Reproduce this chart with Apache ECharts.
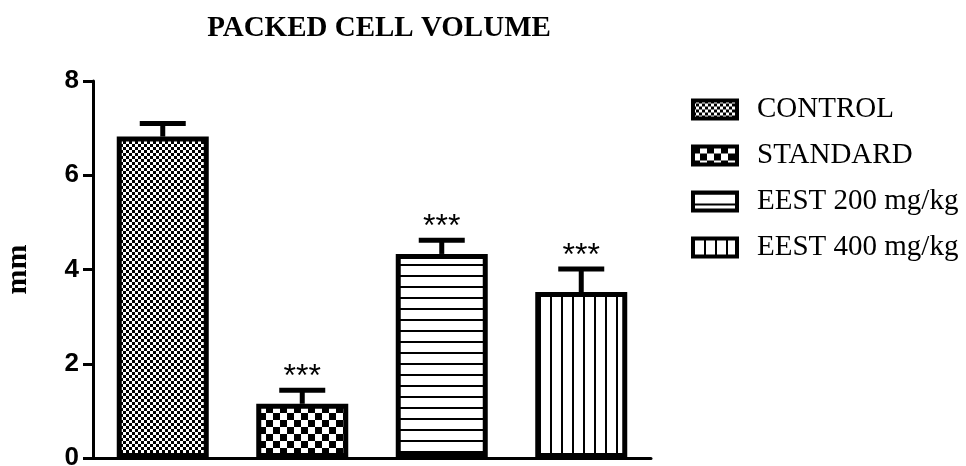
<!DOCTYPE html>
<html>
<head>
<meta charset="utf-8">
<title>Packed cell volume</title>
<script src="https://cdn.jsdelivr.net/npm/echarts@6/dist/echarts.min.js"></script>
<style>
  html, body { margin: 0; padding: 0; background: #fff; }
  #chart { width: 966px; height: 466px; }
</style>
</head>
<body>
<div id="chart"></div>
<script>
// data
var groups = ['CONTROL', 'STANDARD', 'EEST 200 mg/kg', 'EEST 400 mg/kg'];
var means = [6.82, 1.15, 4.33, 3.52];
var errors = [0.28, 0.29, 0.29, 0.49];
var stars = ['', '***', '***', '***'];
var yTicks = [0, 2, 4, 6, 8];

// fill patterns (like the GraphPad hatches)
function makeCanvas(w, h) {
    var c = document.createElement('canvas');
    c.width = w; c.height = h;
    var ctx = c.getContext('2d');
    ctx.fillStyle = '#fff';
    ctx.fillRect(0, 0, w, h);
    ctx.fillStyle = '#000';
    return { c: c, ctx: ctx };
}
function checker(s) {
    var p = makeCanvas(s * 2, s * 2);
    p.ctx.fillRect(0, 0, s, s);
    p.ctx.fillRect(s, s, s, s);
    return { image: p.c, repeat: 'repeat' };
}
function hLines(step, w) {
    var p = makeCanvas(8, step);
    p.ctx.fillRect(0, 0, 8, w);
    return { image: p.c, repeat: 'repeat' };
}
function vLines(step, w) {
    var p = makeCanvas(step, 8);
    p.ctx.fillRect(0, 0, w, 8);
    return { image: p.c, repeat: 'repeat' };
}
var fills = [checker(3), checker(7), hLines(11, 2), vLines(11, 2)];

var chart = echarts.init(document.getElementById('chart'));

var series = groups.map(function (g, i) {
    return {
        name: g,
        type: 'bar',
        xAxisIndex: 0,
        barWidth: 92,
        barGap: '-100%',
        data: groups.map(function (x, j) { return j === i ? means[i] : '-'; }),
        itemStyle: { color: fills[i], borderColor: '#000', borderWidth: 5 },
        emphasis: { disabled: true },
        z: 2
    };
});

// error bars + significance stars
series.push({
    type: 'custom',
    xAxisIndex: 0,
    data: groups.map(function (g, i) { return [i, means[i], errors[i]]; }),
    encode: { x: 0, y: 1 },
    z: 3,
    renderItem: function (params, api) {
        var i = api.value(0);
        var base = api.coord([i, api.value(1)]);
        var top = api.coord([i, api.value(1) + api.value(2)]);
        var lineStyle = { stroke: '#000', lineWidth: 5 };
        return {
            type: 'group',
            children: [
                { type: 'line', shape: { x1: base[0], y1: base[1], x2: top[0], y2: top[1] }, style: lineStyle },
                { type: 'line', shape: { x1: top[0] - 23, y1: top[1], x2: top[0] + 23, y2: top[1] }, style: lineStyle },
                {
                    type: 'text',
                    style: {
                        text: stars[i], x: top[0], y: top[1] - 13,
                        align: 'center', verticalAlign: 'middle',
                        font: '32px "Liberation Sans", Arial', fill: '#000'
                    }
                }
            ]
        };
    }
});

var option = {
    animation: false,
    title: {
        text: 'PACKED CELL VOLUME',
        left: 374,
        top: 9,
        textAlign: 'center',
        textStyle: { fontFamily: '"Liberation Serif", "Times New Roman", serif', fontWeight: 'bold', fontSize: 29, color: '#000' }
    },
    legend: {
        orient: 'vertical',
        left: 686,
        top: 90,
        icon: 'rect',
        itemWidth: 44,
        itemHeight: 18,
        itemGap: 17,
        data: groups,
        itemStyle: { borderColor: '#000', borderWidth: 4 },
        textStyle: { fontFamily: '"Liberation Serif", "Times New Roman", serif', fontSize: 29, color: '#000', padding: [0, 0, 0, 15] }
    },
    grid: { left: 93, right: 315, top: 81, bottom: 8, outerBoundsMode: 'none' },
    xAxis: [{
        type: 'category',
        data: groups,
        axisLine: { lineStyle: { color: '#000', width: 3 } },
        axisTick: { show: false },
        axisLabel: { show: false }
    }, {
        type: 'category',
        position: 'bottom',
        data: [''],
        axisLine: { show: false },
        axisTick: { alignWithLabel: true, length: 8, lineStyle: { color: '#000', width: 3 } },
        axisLabel: { show: false }
    }],
    yAxis: {
        type: 'value',
        min: yTicks[0],
        max: yTicks[yTicks.length - 1],
        interval: 2,
        name: 'mm',
        nameLocation: 'middle',
        nameGap: 60,
        nameTextStyle: { fontFamily: '"Liberation Serif", "Times New Roman", serif', fontWeight: 'bold', fontSize: 30, color: '#000' },
        axisLine: { show: true, lineStyle: { color: '#000', width: 3 } },
        axisTick: { show: true, length: 10, lineStyle: { color: '#000', width: 3 } },
        axisLabel: { margin: 14, fontFamily: '"Liberation Sans", Arial', fontWeight: 'bold', fontSize: 26, color: '#000' },
        splitLine: { show: false }
    },
    series: series
};

chart.setOption(option);
window.addEventListener('resize', function () { chart.resize(); });
</script>
</body>
</html>
